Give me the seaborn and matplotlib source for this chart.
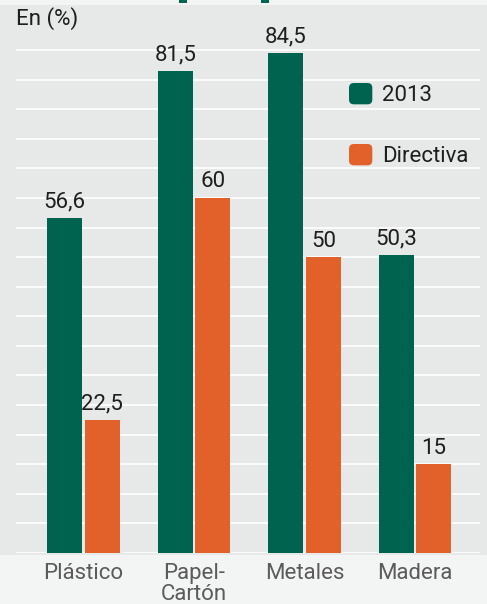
import pandas as pd
import seaborn as sns
import matplotlib.pyplot as plt
from matplotlib.patches import Patch, Rectangle, FancyBboxPatch
from matplotlib.legend_handler import HandlerPatch

categories = ['Plástico', 'Papel-\nCartón', 'Metales', 'Madera']
values_2013 = [56.6, 81.5, 84.5, 50.3]
values_directiva = [22.5, 60, 50, 15]
series = ['2013', 'Directiva']
labels_2013 = ['56,6', '81,5', '84,5', '50,3']
labels_directiva = ['22,5', '60', '50', '15']

green = '#00634f'
orange = '#e2612a'
panel = '#e6e9e7'
light = '#f3f5f4'

df = pd.DataFrame({
    'cat': categories * 2,
    'valor': values_2013 + values_directiva,
    'serie': [series[0]] * 4 + [series[1]] * 4,
})


class RoundSquare(HandlerPatch):
    # rounded square legend keys
    def create_artists(self, legend, orig_handle, xdescent, ydescent,
                       width, height, fontsize, trans):
        p = FancyBboxPatch((-xdescent, -ydescent), width, height,
                           boxstyle='round,pad=0,rounding_size=3.5',
                           facecolor=orig_handle.get_facecolor(),
                           edgecolor='none', transform=trans)
        return [p]


sns.set_style('white')
plt.rcParams['font.family'] = ['Roboto', 'DejaVu Sans']

W, H = 487, 604
fig = plt.figure(figsize=(W / 100, H / 100), dpi=100, facecolor=light)
# gray panel behind the chart
fig.patches.append(Rectangle((0, 1 - 555 / H), 1, 550 / H, transform=fig.transFigure,
                             facecolor=panel, edgecolor='none', zorder=-2))
# remains of the cut-off title
for x0 in (179, 261):
    fig.patches.append(Rectangle((x0 / W, 1 - 3 / H), 8 / W, 3 / H, transform=fig.transFigure,
                                 facecolor=green, edgecolor='none', zorder=-1))

ax = fig.add_axes([16 / W, 51 / H, 464 / W, 548 / H])
ax.set_facecolor('none')
ax.set_zorder(2)

sns.barplot(data=df, x='cat', y='valor', hue='serie', palette=[green, orange],
            saturation=1, linewidth=0, edgecolor='none', width=0.68, gap=0.07,
            ax=ax, legend=False, zorder=3)

for cont, labs in zip(ax.containers, [labels_2013, labels_directiva]):
    ax.bar_label(cont, labels=labs, padding=4, fontsize=16, color='#1e1e1e')

ax.set_ylim(0, 92.6)
ax.set_xlim(-0.611, 3.588)
ax.set_yticks(range(0, 90, 5))
ax.yaxis.grid(True, color='white', linewidth=1.2, zorder=1)
ax.set_axisbelow(True)
ax.set_yticklabels([])
ax.tick_params(axis='both', length=0)
ax.tick_params(axis='x', pad=7, labelsize=16, labelcolor='#5b5b5b')
for t in ax.get_xticklabels():
    t.set_linespacing(1.0)
ax.set_xlabel('')
ax.set_ylabel('')
sns.despine(ax=ax, left=True, bottom=True)

handles = [Patch(facecolor=c) for c in (green, orange)]
ax.legend(handles, series, loc='upper left', bbox_to_anchor=((349 - 16) / 464, (553 - 83) / 548),
          frameon=False, fontsize=16, handlelength=1.05, handleheight=1.1,
          handletextpad=0.45, labelspacing=1.7, borderpad=0, borderaxespad=0,
          labelcolor='#1e1e1e', handler_map={Patch: RoundSquare()})

fig.text(16 / W, 1 - 19 / H, 'En (%)', fontsize=16, va='center', ha='left', color='#1e1e1e')

fig.savefig('out.png', dpi=100, facecolor=light)
